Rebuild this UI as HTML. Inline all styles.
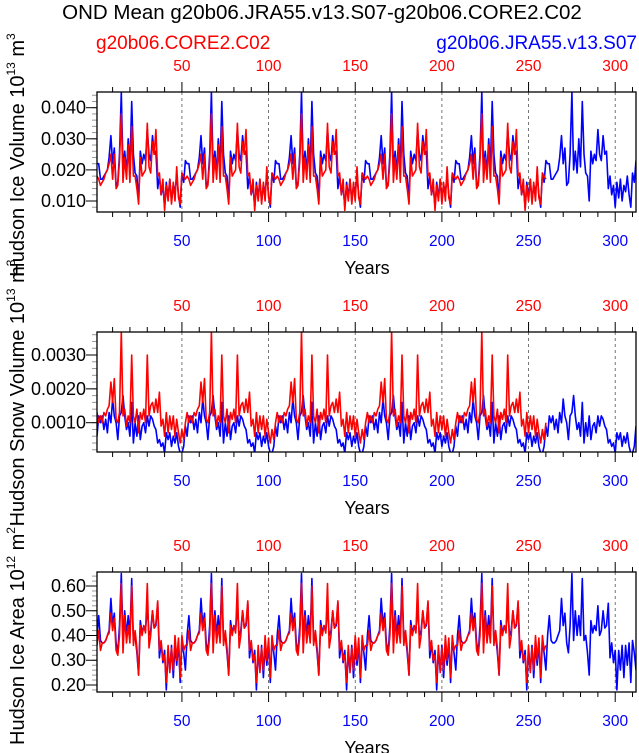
<!DOCTYPE html>
<html><head><meta charset="utf-8"><style>
html,body{margin:0;padding:0;background:#fff;}
svg{display:block;font-family:"Liberation Sans",sans-serif;}
</style></head><body>
<svg id="chart" width="639" height="753" viewBox="0 0 639 753">
<text x="322" y="19" font-size="20.5" text-anchor="middle">OND Mean g20b06.JRA55.v13.S07-g20b06.CORE2.C02</text>
<text x="96" y="49" font-size="19" fill="#f00">g20b06.CORE2.C02</text>
<text x="637" y="49" font-size="19" fill="#00f" text-anchor="end">g20b06.JRA55.v13.S07</text>
</svg>
<script>
const blueIceVolCycle=[0.022,0.022,0.017,0.017,0.018,0.019,0.020,0.024,0.031,0.022,0.027,0.015,0.016,0.025,0.045,0.020,0.026,0.019,0.030,0.021,0.042,0.025,0.019,0.018,0.010,0.026,0.022,0.025,0.023,0.033,0.025,0.023,0.031,0.025,0.026,0.014,0.018,0.012,0.015,0.008,0.016,0.011,0.017,0.010,0.015,0.013,0.018,0.012,0.008,0.019,0.016,0.023];
const redIceVolCycle=[0.018,0.017,0.015,0.016,0.017,0.019,0.020,0.022,0.025,0.017,0.025,0.014,0.015,0.023,0.038,0.016,0.024,0.017,0.028,0.016,0.034,0.018,0.018,0.014,0.009,0.024,0.018,0.019,0.020,0.035,0.021,0.019,0.029,0.025,0.033,0.018,0.019,0.012,0.017,0.007,0.015,0.010,0.017,0.009,0.016,0.010,0.021,0.011,0.009,0.019,0.018,0.017];
const blueSnowCycle=[0.0006,0.0012,0.0010,0.0012,0.0008,0.0011,0.0007,0.0013,0.0010,0.0017,0.0012,0.0010,0.0005,0.0012,0.0013,0.0018,0.0012,0.0008,0.0010,0.0006,0.0016,0.0004,0.0010,0.0006,0.0012,0.0005,0.0009,0.0010,0.0007,0.0012,0.0009,0.0012,0.0011,0.0009,0.0008,0.0004,0.0005,0.0003,0.0004,0.0001,0.0007,0.0005,0.0007,0.0003,0.0006,0.0004,0.0007,0.0003,0.0001,0.0001,0.0003,0.0009];
const redSnowCycle=[0.0013,0.0010,0.0012,0.0010,0.0013,0.0012,0.0014,0.0015,0.0022,0.0016,0.0023,0.0011,0.0010,0.0013,0.0037,0.0012,0.0014,0.0009,0.0012,0.0010,0.0030,0.0012,0.0010,0.0014,0.0007,0.0013,0.0011,0.0014,0.0010,0.0030,0.0012,0.0015,0.0016,0.0013,0.0017,0.0013,0.0019,0.0009,0.0011,0.0006,0.0013,0.0007,0.0012,0.0008,0.0012,0.0006,0.0011,0.0007,0.0004,0.0008,0.0005,0.0010];
const blueAreaCycle=[0.40,0.48,0.38,0.37,0.37,0.38,0.40,0.42,0.55,0.44,0.49,0.37,0.33,0.44,0.65,0.38,0.50,0.40,0.48,0.40,0.63,0.38,0.40,0.33,0.24,0.46,0.41,0.44,0.42,0.52,0.40,0.42,0.50,0.43,0.44,0.53,0.31,0.37,0.29,0.34,0.18,0.34,0.26,0.36,0.23,0.36,0.28,0.37,0.21,0.38,0.33,0.26];
const redAreaCycle=[0.36,0.42,0.34,0.37,0.37,0.38,0.40,0.41,0.49,0.42,0.47,0.34,0.32,0.40,0.61,0.33,0.48,0.37,0.44,0.37,0.60,0.36,0.42,0.35,0.24,0.44,0.40,0.44,0.41,0.61,0.35,0.40,0.50,0.43,0.45,0.54,0.34,0.38,0.30,0.32,0.21,0.36,0.25,0.35,0.26,0.40,0.30,0.39,0.23,0.40,0.34,0.36];
const blueCycles=6, redCycles=5;
const xTickLabels=[50,100,150,200,250,300];
const iceVolTicks=[0.010,0.020,0.030,0.040];
const snowTicks=[0.0010,0.0020,0.0030];
const areaTicks=[0.20,0.30,0.40,0.50,0.60];

const NS="http://www.w3.org/2000/svg";
const svg=document.getElementById('chart');
function mk(tag,attrs,parent){const e=document.createElementNS(NS,tag);for(const k in attrs)e.setAttribute(k,attrs[k]);(parent||svg).appendChild(e);return e;}
function rep(c,n){let o=[];for(let i=0;i<n;i++)o=o.concat(c);return o;}
const X0=97,X1=636,XMIN=1,XMAX=312;
const xs=v=>X0+(v-XMIN)/(XMAX-XMIN)*(X1-X0);

function panel(p){
  const g=mk('g',{});
  
  
  const ys=v=>p.bot-(v-p.ymin)/(p.ymax-p.ymin)*(p.bot-p.top);
  xTickLabels.forEach(t=>{const l=mk('line',{x1:xs(t),x2:xs(t),y1:p.top,y2:p.bot,stroke:'#555','stroke-width':0.8,'stroke-dasharray':'3,3'},g);
    
    });
  for(let t=10;t<=XMAX;t+=10){const len=t%50===0?10:5;
    mk('line',{x1:xs(t),x2:xs(t),y1:p.top,y2:p.top-len,stroke:'#000','stroke-width':1},g);
    mk('line',{x1:xs(t),x2:xs(t),y1:p.bot,y2:p.bot+len,stroke:'#000','stroke-width':1},g);}
  xTickLabels.forEach(t=>{
    const a=mk('text',{x:xs(t),y:p.top-21,'font-size':15.5,fill:'#f00','text-anchor':'middle'},g);a.textContent=t;
    
    
    const b=mk('text',{x:xs(t),y:p.bot+34,'font-size':15.5,fill:'#00f','text-anchor':'middle'},g);b.textContent=t;
    
    });
  const n=Math.round((p.ymax-p.ymin)/p.minor)+2;
  for(let i=-1;i<n;i++){const v=Math.ceil(p.ymin/p.minor+1e-9)*p.minor+i*p.minor; if(v<p.ymin||v>p.ymax)continue;
    mk('line',{x1:X0,x2:X0-5,y1:ys(v),y2:ys(v),stroke:'#999','stroke-width':1},g);}
  p.ticks.forEach(v=>{mk('line',{x1:X0,x2:X0-11,y1:ys(v),y2:ys(v),stroke:'#000','stroke-width':1},g);
    const t=mk('text',{x:X0-11,y:ys(v)+6,'font-size':18,'text-anchor':'end'},g);t.textContent=v.toFixed(p.dec);
    
    });
  const clip=mk('clipPath',{id:'c'+p.name},g);mk('rect',{x:X0,y:p.top,width:X1-X0,height:p.bot-p.top},clip);
  [[p.blue,'#00f','blue-series'],[p.red,'#f00','red-series']].forEach(([d,c,nm])=>{
    const pts=d.map((v,i)=>xs(i+1).toFixed(1)+','+ys(v).toFixed(1)).join(' ');
    const pl=mk('polyline',{points:pts,fill:'none',stroke:c,'stroke-width':1.6,'stroke-linejoin':'round','clip-path':'url(#c'+p.name+')'},g);
    
    });
  const box=mk('rect',{x:X0,y:p.top,width:X1-X0,height:p.bot-p.top,fill:'none',stroke:'#000','stroke-width':1.3},g);
  
  
  const yr=mk('text',{x:367,y:p.bot+62,'font-size':18,'text-anchor':'middle'},g);yr.textContent='Years';
  
  
  const yt=mk('text',{x:0,y:0,'font-size':20,'text-anchor':'middle',transform:'translate('+p.tx+','+p.ty+') rotate(-90)'},g);
  yt.innerHTML=p.title;
  
  
}
const sup=(a,b)=>'10<tspan dy="-9" font-size="12">'+a+'</tspan><tspan dy="9"> m</tspan><tspan dy="-9" font-size="12">'+b+'</tspan>';
panel({name:'ice-volume-panel',top:92,bot:212,ymin:0.00646,ymax:0.04505,minor:0.002,ticks:iceVolTicks,dec:3,
  blue:rep(blueIceVolCycle,blueCycles),red:rep(redIceVolCycle,redCycles),tx:24,ty:155,
  title:'Hudson Ice Volume '+sup(13,3)});
panel({name:'snow-volume-panel',top:332,bot:452,ymin:0.000134,ymax:0.00368,minor:0.0002,ticks:snowTicks,dec:4,
  blue:rep(blueSnowCycle,blueCycles),red:rep(redSnowCycle,redCycles),tx:24,ty:393,
  title:'Hudson Snow Volume '+sup(13,3)});
panel({name:'ice-area-panel',top:572,bot:692,ymin:0.1717,ymax:0.6566,minor:0.02,ticks:areaTicks,dec:2,
  blue:rep(blueAreaCycle,blueCycles),red:rep(redAreaCycle,redCycles),tx:24,ty:636,
  title:'Hudson Ice Area '+sup(12,2)});
</script>
</body></html>
